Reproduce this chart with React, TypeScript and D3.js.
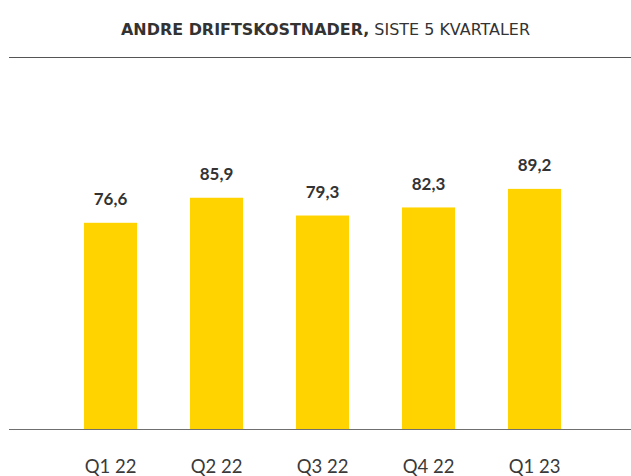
import React from "react";
import * as d3 from "d3";

const categories = ["Q1 22", "Q2 22", "Q3 22", "Q4 22", "Q1 23"];
const values = [76.6, 85.9, 79.3, 82.3, 89.2];
const valueLabels = ["76,6", "85,9", "79,3", "82,3", "89,2"];
const titleBold = "ANDRE DRIFTSKOSTNADER,";
const titleRegular = " SISTE 5 KVARTALER";

const W = 631;
const H = 476;
const FONT = "Lato, 'Open Sans', sans-serif";
const TITLE_FONT = "'DejaVu Sans', 'Open Sans', sans-serif";

export default function App() {
  const x = d3
    .scaleBand<string>()
    .domain(categories)
    .range([31, 614])
    .paddingInner(0.5)
    .paddingOuter(0.5);
  const y = d3.scaleLinear().domain([0, 100]).range([429, 429 - 269.2]);

  return (
    <svg
      width={W}
      height={H}
      style={{ position: "absolute", left: 0, top: 0, background: "#fff" }}
    >
      <text
        x={121}
        y={34.5}
        textAnchor="start"
        fontFamily={TITLE_FONT}
        fontSize={15}
        fill="#333"
        textLength={409}
        lengthAdjust="spacingAndGlyphs"
      >
        <tspan fontWeight="bold">{titleBold}</tspan>
        <tspan>{titleRegular}</tspan>
      </text>
      <line x1={9} x2={W} y1={57.5} y2={57.5} stroke="#555" strokeWidth={1} />
      {values.map((v, i) => (
        <rect
          key={categories[i]}
          x={x(categories[i])!}
          y={y(v)}
          width={x.bandwidth()}
          height={y(0) - y(v)}
          fill="#FFD300"
        />
      ))}
      {values.map((v, i) => (
        <text
          key={"l" + i}
          x={x(categories[i])! + x.bandwidth() / 2}
          y={y(v) - 17.5}
          textAnchor="middle"
          fontFamily={FONT}
          fontSize={17}
          fontWeight="bold"
          fill="#333"
        >
          {valueLabels[i]}
        </text>
      ))}
      <line x1={9} x2={W} y1={429.5} y2={429.5} stroke="#6f6f6f" strokeWidth={1.2} />
      {categories.map((c) => (
        <text
          key={c}
          x={x(c)! + x.bandwidth() / 2}
          y={473}
          textAnchor="middle"
          fontFamily={FONT}
          fontSize={18.5}
          fill="#3a3a3a"
        >
          {c}
        </text>
      ))}
    </svg>
  );
}
